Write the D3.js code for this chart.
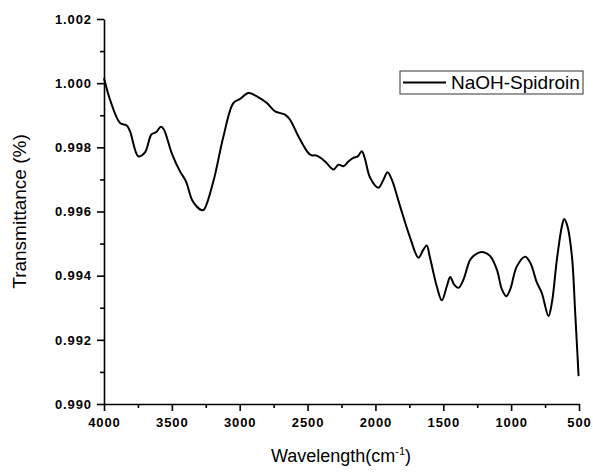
<!DOCTYPE html>
<html>
<head>
<meta charset="utf-8">
<script src="https://cdn.jsdelivr.net/npm/d3@7"></script>
<style>
  body { margin: 0; background: #fff; }
  svg { display: block; font-family: Arial, "Liberation Sans", sans-serif; }
</style>
</head>
<body>
<div id="chart"></div>
<script>
// spectrum (wavenumber, transmittance)
const wavenumbers = [4000, 3956, 3882, 3833, 3808, 3747, 3698, 3651, 3617, 3580, 3558, 3502, 3440, 3396, 3346,
  3280, 3263, 3194, 3120, 3047, 2997, 2936, 2874, 2800, 2739, 2666, 2629, 2567, 2481, 2432, 2371, 2309,
  2272, 2236, 2199, 2162, 2130, 2100, 2076, 2039, 1978, 1941, 1911, 1880, 1818, 1744, 1683, 1647, 1622,
  1600, 1548, 1511, 1474, 1449, 1420, 1388, 1351, 1301, 1253, 1203, 1154, 1105, 1068, 1036, 1007, 958,
  897, 859, 810, 774, 725, 700, 663, 626, 609, 585, 552, 528, 503];
const transmittance = [1.00016, 0.99949, 0.99876, 0.99868, 0.99850, 0.99772, 0.99784, 0.99840, 0.99847, 0.99864,
  0.99855, 0.99783, 0.99725, 0.99694, 0.99632, 0.99604, 0.99606, 0.99694, 0.99834, 0.99938, 0.99951,
  0.99969, 0.99959, 0.99938, 0.99912, 0.99902, 0.99886, 0.99834, 0.99777, 0.99774, 0.99756, 0.99731,
  0.99746, 0.99741, 0.99756, 0.99767, 0.99772, 0.99788, 0.99762, 0.99705, 0.99674, 0.99699, 0.99722,
  0.99700, 0.99616, 0.99518, 0.99456, 0.99481, 0.99494, 0.99460, 0.99367, 0.99323, 0.99367, 0.99396,
  0.99372, 0.99362, 0.99388, 0.99450, 0.99469, 0.99473, 0.99461, 0.99419, 0.99357, 0.99336, 0.99357,
  0.99429, 0.99459, 0.99440, 0.99378, 0.99346, 0.99274, 0.99315, 0.99450, 0.99554, 0.99577, 0.99554,
  0.99460, 0.99284, 0.99087];
const xTicks = [4000, 3500, 3000, 2500, 2000, 1500, 1000, 500];
const yTicks = [0.990, 0.992, 0.994, 0.996, 0.998, 1.000, 1.002];
const seriesName = "NaOH-Spidroin";

const width = 593, height = 472;
const margin = { left: 104, right: 14, top: 19, bottom: 68 };

const svg = d3.select("#chart").append("svg")
  .attr("width", width)
  .attr("height", height);

const x = d3.scaleLinear().domain([4000, 500]).range([margin.left, width - margin.right]);
const y = d3.scaleLinear().domain([0.990, 1.002]).range([height - margin.bottom, margin.top]);

// minor ticks halfway between majors
const xMinor = d3.range(3750, 500, -500);
const yMinor = d3.range(0.991, 1.002, 0.002);

const xAxis = svg.append("g")
  .attr("transform", `translate(0,${y(0.990)})`)
  .call(d3.axisBottom(x).tickValues(xTicks).tickFormat(d3.format("d")).tickSize(7).tickSizeOuter(0));

svg.append("g")
  .attr("transform", `translate(0,${y(0.990)})`)
  .call(d3.axisBottom(x).tickValues(xMinor).tickFormat("").tickSize(4).tickSizeOuter(0))
  .select(".domain").remove();

const yAxis = svg.append("g")
  .attr("transform", `translate(${x(4000)},0)`)
  .call(d3.axisLeft(y).tickValues(yTicks).tickFormat(d3.format(".3f")).tickSize(7).tickSizeOuter(0));

svg.append("g")
  .attr("transform", `translate(${x(4000)},0)`)
  .call(d3.axisLeft(y).tickValues(yMinor).tickFormat("").tickSize(4).tickSizeOuter(0))
  .select(".domain").remove();

svg.selectAll(".domain, .tick line").attr("stroke", "#000").attr("stroke-width", 1.6);
svg.selectAll(".tick text")
  .attr("fill", "#000")
  .style("font-size", "13px")
  .style("font-weight", "bold")
  .style("letter-spacing", "0.9px");
xAxis.selectAll(".tick text").attr("dy", "1.0em");
yAxis.selectAll(".tick text").attr("x", -12);

// curve
const points = wavenumbers.map((w, i) => [w, transmittance[i]]);
const line = d3.line()
  .x(d => x(d[0]))
  .y(d => y(d[1]))
  .curve(d3.curveCatmullRom.alpha(0.5));

svg.append("path")
  .datum(points)
  .attr("fill", "none")
  .attr("stroke", "#000")
  .attr("stroke-width", 2)
  .attr("d", line);

// legend
const legend = svg.append("g").attr("transform", "translate(400,71)");
legend.append("rect")
  .attr("width", 183).attr("height", 23)
  .attr("fill", "#fff")
  .attr("stroke", "#333").attr("stroke-width", 1);
legend.append("line")
  .attr("x1", 3).attr("x2", 46)
  .attr("y1", 11.5).attr("y2", 11.5)
  .attr("stroke", "#000").attr("stroke-width", 2);
legend.append("text")
  .attr("x", 51).attr("y", 17.5)
  .style("font-size", "19px")
  .text(seriesName);

// axis titles
const xTitle = svg.append("text")
  .attr("x", 341).attr("y", 462)
  .attr("text-anchor", "middle")
  .style("font-size", "18px");
xTitle.append("tspan").text("Wavelength(cm");
xTitle.append("tspan").attr("dy", -7).style("font-size", "11px").text("-1");
xTitle.append("tspan").attr("dy", 7).text(")");

svg.append("text")
  .attr("transform", `translate(26,${(y(0.990) + y(1.002)) / 2}) rotate(-90)`)
  .attr("text-anchor", "middle")
  .style("font-size", "19px")
  .text("Transmittance (%)");
</script>
</body>
</html>
